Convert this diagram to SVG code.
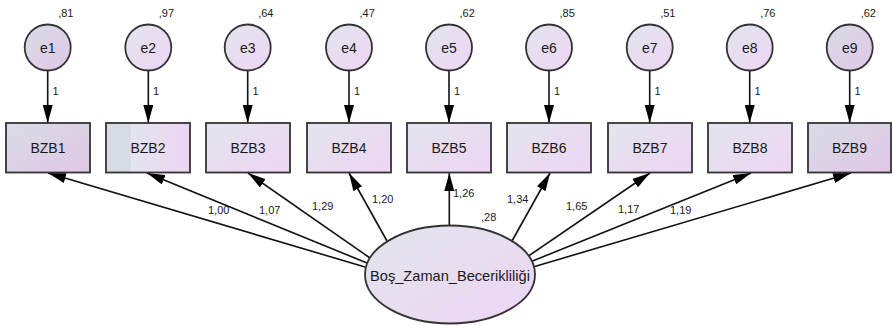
<svg xmlns="http://www.w3.org/2000/svg" width="893" height="325" viewBox="0 0 893 325">
<defs>
<linearGradient id="g" x1="0" y1="0" x2="1" y2="1">
<stop offset="0" stop-color="#e2e5ed"/>
<stop offset="1" stop-color="#eed5f4"/>
</linearGradient>
<linearGradient id="gd" x1="0" y1="0" x2="1" y2="1">
<stop offset="0" stop-color="#d9dce5"/>
<stop offset="1" stop-color="#e0c7e7"/>
</linearGradient>
<linearGradient id="g2" x1="0" y1="0" x2="1" y2="0">
<stop offset="0" stop-color="#d6dae2"/>
<stop offset="0.3" stop-color="#d8dbe3"/>
<stop offset="0.3" stop-color="#e4e4ef"/>
<stop offset="1" stop-color="#edd5f4"/>
</linearGradient>
<marker id="ah" viewBox="0 0 18 10" markerWidth="18" markerHeight="10" refX="18" refY="5" orient="auto" markerUnits="userSpaceOnUse">
<path d="M0,0 L18,5 L0,10 z" fill="#000"/>
</marker>
</defs>
<style>
.n{stroke:#333;stroke-width:1.8}
.t{font-family:"Liberation Sans",Arial,sans-serif;fill:#1a1a1a}
.lab{font-size:14px;text-anchor:middle}
.v{font-size:11px}
.c{stroke:#111;stroke-width:1.6;fill:none;marker-end:url(#ah)}
</style>
<g id="connectors">
<line class="c" x1="47.7" y1="70.5" x2="47.7" y2="123"/>
<line class="c" x1="148.3" y1="70.5" x2="148.3" y2="123"/>
<line class="c" x1="247.7" y1="70.5" x2="247.7" y2="123"/>
<line class="c" x1="349" y1="70.5" x2="349" y2="123"/>
<line class="c" x1="449" y1="70.5" x2="449" y2="123"/>
<line class="c" x1="549" y1="70.5" x2="549" y2="123"/>
<line class="c" x1="649.7" y1="70.5" x2="649.7" y2="123"/>
<line class="c" x1="749.7" y1="70.5" x2="749.7" y2="123"/>
<line class="c" x1="849.7" y1="70.5" x2="849.7" y2="123"/>
<line class="c" x1="365" y1="267" x2="48" y2="173"/>
<line class="c" x1="367" y1="263" x2="147" y2="173"/>
<line class="c" x1="370" y1="258" x2="248" y2="173"/>
<line class="c" x1="387" y1="241" x2="349" y2="173"/>
<line class="c" x1="449.3" y1="225" x2="449.3" y2="173"/>
<line class="c" x1="512" y1="241" x2="550" y2="173"/>
<line class="c" x1="527" y1="257" x2="650" y2="173"/>
<line class="c" x1="530" y1="262" x2="751" y2="173"/>
<line class="c" x1="533" y1="267" x2="851" y2="173"/>
<text class="t v" x="52.5" y="95">1</text>
<text class="t v" x="153" y="95">1</text>
<text class="t v" x="252.5" y="95">1</text>
<text class="t v" x="354" y="95">1</text>
<text class="t v" x="454" y="95">1</text>
<text class="t v" x="554" y="95">1</text>
<text class="t v" x="654.5" y="95">1</text>
<text class="t v" x="754.5" y="95">1</text>
<text class="t v" x="854.5" y="95">1</text>
<text class="t v" x="208" y="214">1,00</text>
<text class="t v" x="259" y="214">1,07</text>
<text class="t v" x="312" y="210">1,29</text>
<text class="t v" x="372" y="203">1,20</text>
<text class="t v" x="453" y="197">1,26</text>
<text class="t v" x="507" y="203">1,34</text>
<text class="t v" x="566" y="210">1,65</text>
<text class="t v" x="618" y="213">1,17</text>
<text class="t v" x="670" y="214">1,19</text>
</g>
<g id="e1"><circle class="n" cx="47.7" cy="47.5" r="23" fill="url(#gd)"/><text class="t lab" x="47.7" y="52.5">e1</text><text class="t v" x="58.2" y="17">,81</text></g>
<g id="e2"><circle class="n" cx="148.3" cy="47.5" r="23" fill="url(#g)"/><text class="t lab" x="148.3" y="52.5">e2</text><text class="t v" x="158.8" y="17">,97</text></g>
<g id="e3"><circle class="n" cx="247.7" cy="47.5" r="23" fill="url(#g)"/><text class="t lab" x="247.7" y="52.5">e3</text><text class="t v" x="258.2" y="17">,64</text></g>
<g id="e4"><circle class="n" cx="349" cy="47.5" r="23" fill="url(#g)"/><text class="t lab" x="349" y="52.5">e4</text><text class="t v" x="359.5" y="17">,47</text></g>
<g id="e5"><circle class="n" cx="449" cy="47.5" r="23" fill="url(#g)"/><text class="t lab" x="449" y="52.5">e5</text><text class="t v" x="459.5" y="17">,62</text></g>
<g id="e6"><circle class="n" cx="549" cy="47.5" r="23" fill="url(#g)"/><text class="t lab" x="549" y="52.5">e6</text><text class="t v" x="559.5" y="17">,85</text></g>
<g id="e7"><circle class="n" cx="649.7" cy="47.5" r="23" fill="url(#g)"/><text class="t lab" x="649.7" y="52.5">e7</text><text class="t v" x="660.2" y="17">,51</text></g>
<g id="e8"><circle class="n" cx="749.7" cy="47.5" r="23" fill="url(#g)"/><text class="t lab" x="749.7" y="52.5">e8</text><text class="t v" x="760.2" y="17">,76</text></g>
<g id="e9"><circle class="n" cx="849.7" cy="47.5" r="23" fill="url(#gd)"/><text class="t lab" x="849.7" y="52.5">e9</text><text class="t v" x="860.7" y="17">,62</text></g>
<g id="BZB1"><rect class="n" x="6" y="123" width="84" height="49.5" fill="url(#gd)"/><text class="t lab" x="48" y="153">BZB1</text></g>
<g id="BZB2"><rect class="n" x="106" y="123" width="84" height="49.5" fill="url(#g2)"/><text class="t lab" x="148" y="153">BZB2</text></g>
<g id="BZB3"><rect class="n" x="206" y="123" width="84" height="49.5" fill="url(#g)"/><text class="t lab" x="248" y="153">BZB3</text></g>
<g id="BZB4"><rect class="n" x="307" y="123" width="84" height="49.5" fill="url(#g)"/><text class="t lab" x="349" y="153">BZB4</text></g>
<g id="BZB5"><rect class="n" x="407" y="123" width="84" height="49.5" fill="url(#g)"/><text class="t lab" x="449" y="153">BZB5</text></g>
<g id="BZB6"><rect class="n" x="507" y="123" width="84" height="49.5" fill="url(#g)"/><text class="t lab" x="549" y="153">BZB6</text></g>
<g id="BZB7"><rect class="n" x="608" y="123" width="84" height="49.5" fill="url(#g)"/><text class="t lab" x="650" y="153">BZB7</text></g>
<g id="BZB8"><rect class="n" x="708" y="123" width="84" height="49.5" fill="url(#g)"/><text class="t lab" x="750" y="153">BZB8</text></g>
<g id="BZB9"><rect class="n" x="808" y="123" width="83" height="49.5" fill="url(#gd)"/><text class="t lab" x="849.5" y="153">BZB9</text></g>
<g id="Bos_Zaman_Becerikliligi"><ellipse class="n" cx="450" cy="274.5" rx="85" ry="49" fill="url(#g)"/><text class="t lab" x="450" y="281" style="font-size:14.6px">Boş_Zaman_Becerikliliği</text><text class="t v" x="481" y="221">,28</text></g>
</svg>
